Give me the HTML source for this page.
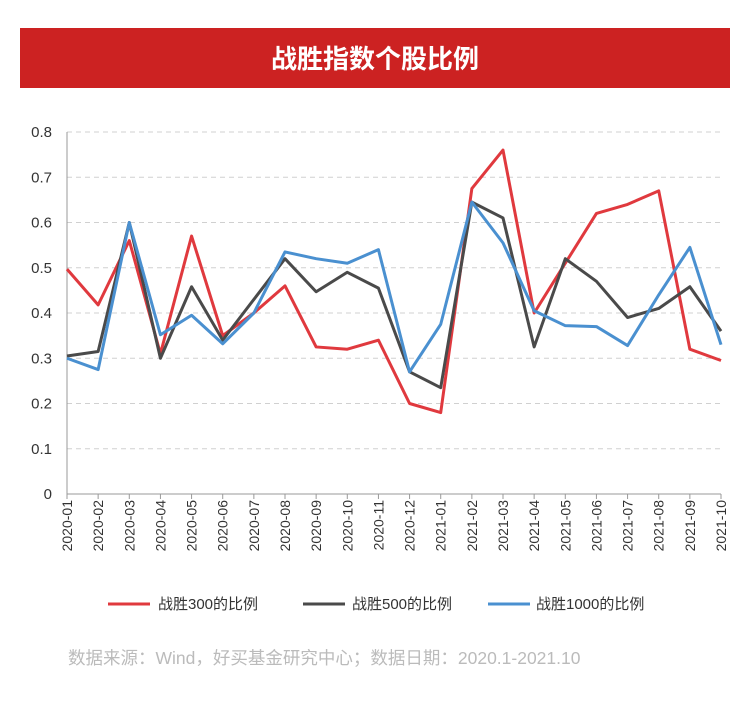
<!DOCTYPE html>
<html><head><meta charset="utf-8"><style>
body{margin:0;background:#fff;width:750px;height:698px;overflow:hidden;font-family:"Liberation Sans","Noto Sans CJK SC",sans-serif}
</style></head><body>
<svg width="750" height="698" xmlns="http://www.w3.org/2000/svg" font-family="Liberation Sans, Noto Sans CJK SC, sans-serif">
<rect x="20" y="28" width="710" height="60" fill="#cc2222"/>
<text x="375" y="68" text-anchor="middle" font-size="26" font-weight="bold" fill="#fff">战胜指数个股比例</text>
<g id="grid"></g>
<g id="plot"></g>
<g font-size="15" fill="#333">
<line x1="108" y1="604" x2="150" y2="604" stroke="#e0393e" stroke-width="3"/><text x="158" y="609">战胜300的比例</text>
<line x1="303" y1="604" x2="345" y2="604" stroke="#4a4a4a" stroke-width="3"/><text x="352" y="609">战胜500的比例</text>
<line x1="488" y1="604" x2="530" y2="604" stroke="#4a90d0" stroke-width="3"/><text x="536" y="609">战胜1000的比例</text>
</g>
<text x="68" y="664" font-size="17.5" fill="#bbb">数据来源：Wind，好买基金研究中心；数据日期：2020.1-2021.10</text>
</svg>
<script>
const ns="http://www.w3.org/2000/svg";
const X0=67,X1=721,Y0=494,Y8=132;
const n=22,dx=(X1-X0)/21;
const yv=v=>Y0-(Y0-Y8)*v/0.8;
const g=document.getElementById('grid'),p=document.getElementById('plot');
function el(t,a,par,txt){const e=document.createElementNS(ns,t);for(const k in a)e.setAttribute(k,a[k]);if(txt)e.textContent=txt;par.appendChild(e);return e;}
for(let i=0;i<=8;i++){const y=yv(i/10);
if(i>0)el('line',{x1:X0,x2:X1,y1:y,y2:y,stroke:'#d0d0d0','stroke-dasharray':'5,4'},g);
el('text',{x:52,y:y+5,'text-anchor':'end','font-size':'15',fill:'#333'},g,i==0?'0':(i/10).toFixed(1));}
el('line',{x1:X0,x2:X0,y1:Y8,y2:Y0,stroke:'#999'},g);
el('line',{x1:X0,x2:X1,y1:Y0,y2:Y0,stroke:'#999'},g);
const labs=[];for(let i=0;i<n;i++){const yr=i<12?2020:2021,m=i<12?i+1:i-11;labs.push(yr+'-'+String(m).padStart(2,'0'));}
labs.forEach((l,i)=>{const x=X0+dx*i;el('line',{x1:x,x2:x,y1:Y0,y2:Y0+5,stroke:'#999'},g);
el('text',{x:0,y:0,transform:`translate(${x+5},${Y0+6}) rotate(-90)`,'text-anchor':'end','font-size':'14',fill:'#333'},g,l);});
const S=[
['#e0393e',[0.497,0.418,0.56,0.31,0.57,0.35,0.40,0.46,0.325,0.32,0.34,0.20,0.18,0.675,0.76,0.40,0.51,0.62,0.64,0.67,0.32,0.295]],
['#4a4a4a',[0.305,0.315,0.60,0.30,0.458,0.34,0.43,0.52,0.447,0.49,0.455,0.27,0.235,0.645,0.61,0.325,0.52,0.47,0.39,0.41,0.458,0.36]],
['#4a90d0',[0.30,0.275,0.60,0.352,0.395,0.332,0.40,0.535,0.52,0.51,0.54,0.27,0.375,0.645,0.555,0.405,0.372,0.37,0.328,0.44,0.545,0.33]]];
S.forEach(([c,d])=>el('polyline',{points:d.map((v,i)=>(X0+dx*i)+','+yv(v)).join(' '),fill:'none',stroke:c,'stroke-width':3,'stroke-linejoin':'round'},p));
</script>
</body></html>
